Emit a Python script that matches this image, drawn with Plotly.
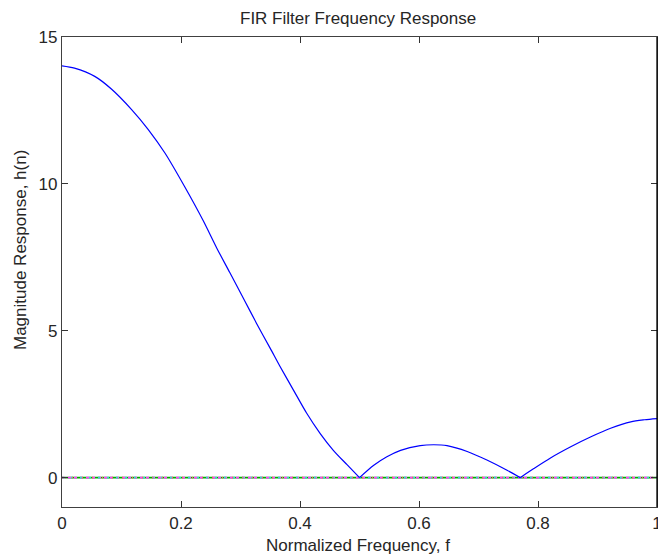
import plotly.graph_objects as go

# Data
freq = [0, 0.021, 0.055, 0.083, 0.117, 0.145, 0.173, 0.206, 0.237, 0.260, 0.282,
        0.305, 0.327, 0.350, 0.366, 0.389, 0.411, 0.434, 0.456, 0.479, 0.500,
        0.524, 0.546, 0.569, 0.602, 0.625, 0.647, 0.681, 0.715, 0.748, 0.770,
        0.793, 0.821, 0.855, 0.889, 0.922, 0.956, 0.979, 1.0]
mag = [14.02, 13.94, 13.66, 13.23, 12.53, 11.85, 11.05, 9.91, 8.76, 7.82, 6.98,
       6.10, 5.25, 4.40, 3.80, 2.98, 2.20, 1.50, 0.93, 0.44, 0.0,
       0.42, 0.71, 0.93, 1.09, 1.12, 1.09, 0.89, 0.59, 0.25, 0.0,
       0.31, 0.67, 1.05, 1.39, 1.68, 1.90, 1.97, 2.01]
zero_x = [0, 1]
zero_y = [0, 0]
x_ticks = [0, 0.2, 0.4, 0.6, 0.8, 1]
x_ticklabels = ["0", "0.2", "0.4", "0.6", "0.8", "1"]
y_ticks = [0, 5, 10, 15]
y_ticklabels = ["0", "5", "10", "15"]
# indices where the response touches zero (cusps)
cusp_idx = [0, 20, 30, len(freq) - 1]

W, H = 658, 557
L, R, T, B = 62, 1, 37, 50
PW, PH = W - L - R, H - T - B

FONT = "Liberation Sans, Arial, sans-serif"
TXT = "#262626"

fig = go.Figure()
zero_styles = [("#00b000", "solid"), ("#ff40ff", "3px,3px"), ("#40d0d0", "2px,7px"),
               ("#ff6060", "1px,9px")]
for col, dash in zero_styles:
    fig.add_trace(go.Scatter(x=zero_x, y=zero_y, mode="lines",
                             line=dict(color=col, width=1.6, dash=dash),
                             showlegend=False, hoverinfo="skip"))
for a, b in zip(cusp_idx[:-1], cusp_idx[1:]):
    fig.add_trace(go.Scatter(x=freq[a:b + 1], y=mag[a:b + 1], mode="lines",
                             line=dict(color="#0000ff", width=1.2, shape="spline",
                                       smoothing=0.8),
                             showlegend=False))

axis_common = dict(showgrid=False, zeroline=False, ticks="inside", ticklen=6,
                   tickwidth=1, tickcolor="#333", showline=True, linecolor="#404040",
                   linewidth=1.3, mirror="ticks", ticklabeloverflow="allow",
                   automargin=False,
                   tickfont=dict(family=FONT, size=17, color=TXT))
fig.update_xaxes(range=[0, 1], tickvals=x_ticks, ticktext=x_ticklabels, **axis_common)
fig.update_yaxes(range=[-1, 15], tickvals=y_ticks, ticktext=y_ticklabels, **axis_common)

def py(ypx):
    return (H - B - ypx) / PH

def px(xpx):
    return (xpx - L) / PW

fig.update_layout(
    width=W, height=H,
    margin=dict(l=L, r=R, t=T, b=B, pad=0, autoexpand=False),
    paper_bgcolor="white", plot_bgcolor="white",
    shapes=[dict(type="line", xref="paper", yref="paper", x0=1, x1=1, y0=0, y1=1,
                 line=dict(color="black", width=1.3))],
    annotations=[
        dict(text="FIR Filter Frequency Response", xref="paper", yref="paper",
             x=px(357.5), y=py(18.5), xanchor="center", yanchor="middle",
             showarrow=False, font=dict(family=FONT, size=17, color=TXT)),
        dict(text="Normalized Frequency, f", xref="paper", yref="paper",
             x=px(358), y=py(545.5), xanchor="center", yanchor="middle",
             showarrow=False, font=dict(family=FONT, size=17, color=TXT)),
        dict(text="Magnitude Response, h(n)", xref="paper", yref="paper",
             x=px(20), y=py(250), xanchor="center", yanchor="middle",
             textangle=-90, showarrow=False,
             font=dict(family=FONT, size=17, color=TXT)),
    ],
)

fig.write_html("out.html")
